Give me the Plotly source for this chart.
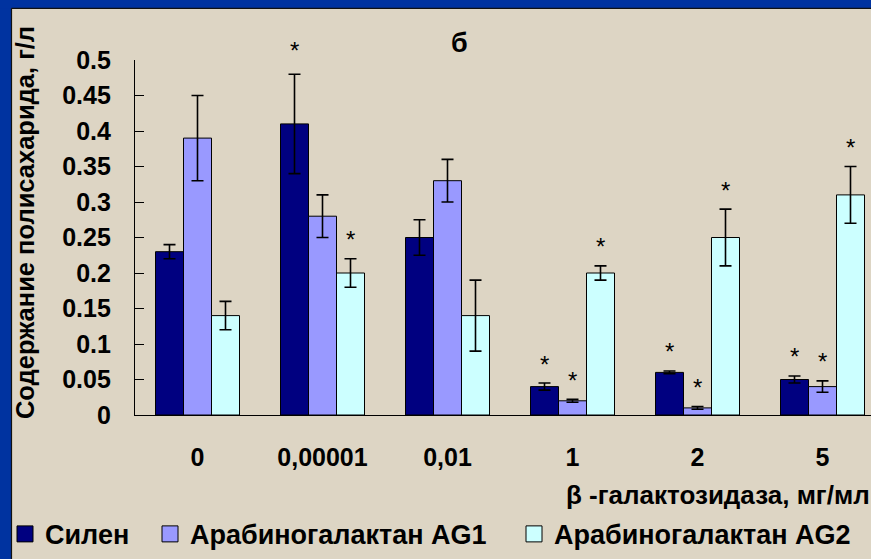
import plotly.graph_objects as go

# ---- data ----
categories = ["0", "0,00001", "0,01", "1", "2", "5"]
series_names = ["Силен", "Арабиногалактан AG1", "Арабиногалактан AG2"]
silen = [0.23, 0.41, 0.25, 0.04, 0.06, 0.05]
silen_err = [0.01, 0.07, 0.025, 0.005, 0.002, 0.005]
ag1 = [0.39, 0.28, 0.33, 0.02, 0.01, 0.04]
ag1_err = [0.06, 0.03, 0.03, 0.002, 0.002, 0.008]
ag2 = [0.14, 0.20, 0.14, 0.20, 0.25, 0.31]
ag2_err = [0.02, 0.02, 0.05, 0.01, 0.04, 0.04]
silen_star = [False, True, False, True, True, True]
ag1_star = [False, False, False, True, True, True]
ag2_star = [False, True, False, True, True, True]
y_ticks = [0, 0.05, 0.1, 0.15, 0.2, 0.25, 0.3, 0.35, 0.4, 0.45, 0.5]
y_tick_labels = ["0", "0.05", "0.1", "0.15", "0.2", "0.25", "0.3", "0.35", "0.4", "0.45", "0.5"]
title_text = "б"
y_title = "Содержание полисахарида, г/л"
x_title = "β -галактозидаза, мг/мл"

colors = ["#000080", "#9999FF", "#CCFFFF"]
BG = "#DDD5C4"
FRAME = "#0033A0"
FONT = "Arial, Liberation Sans, sans-serif"

W, H = 871, 559
ML, MR, MT, MB = 135, 0, 60, 142
PW = W - ML - MR
PH = H - MT - MB


def px_x(px):
    return (px - ML) / PW


def px_y(py):
    return (H - MB - py) / PH


values = [silen, ag1, ag2]
errors = [silen_err, ag1_err, ag2_err]
stars = [silen_star, ag1_star, ag2_star]
legend_ids = ["legend", "legend2", "legend3"]

fig = go.Figure()
for name, v, e, c in zip(series_names, values, errors, colors):
    fig.add_trace(go.Bar(
        x=categories, y=v, name=name, showlegend=False,
        marker=dict(color=c, line=dict(color="black", width=1)),
        error_y=dict(type="data", array=e, visible=True, color="black",
                     thickness=1.6, width=6),
    ))
# legend entries
for name, c, lid in zip(series_names, colors, legend_ids):
    fig.add_trace(go.Scatter(
        x=[None], y=[None], mode="markers", name=name, legend=lid,
        marker=dict(symbol="square", size=16, color=c,
                    line=dict(color="black", width=1)),
    ))

annotations = []
bar_w_px = 28
for si, (v, e, st) in enumerate(zip(values, errors, stars)):
    for ci in range(len(categories)):
        if st[ci]:
            shift = 19 if not (si == 0 and ci == 1) else 24
            annotations.append(dict(
                x=ci, y=v[ci] + e[ci], xref="x", yref="y",
                text="*", showarrow=False, xshift=(si - 1) * bar_w_px,
                yshift=shift, yanchor="middle", xanchor="center",
                font=dict(family=FONT, size=24, color="black"),
            ))

annotations.append(dict(x=px_x(459), y=px_y(43), xref="paper", yref="paper",
                        xanchor="center", yanchor="middle",
                        text=title_text, showarrow=False,
                        font=dict(family=FONT, size=27, color="black", weight="bold")))
annotations.append(dict(x=px_x(25), y=px_y(224), xref="paper", yref="paper",
                        xanchor="center", yanchor="middle",
                        text=y_title, showarrow=False, textangle=-90,
                        font=dict(family=FONT, size=25.5, color="black", weight="bold")))
annotations.append(dict(x=px_x(872), y=px_y(497), xref="paper", yref="paper",
                        xanchor="right", yanchor="middle", text=x_title, showarrow=False,
                        font=dict(family=FONT, size=26, color="black", weight="bold")))

shapes = [
    dict(type="rect", xref="paper", yref="paper", x0=px_x(-5), x1=px_x(11.5),
         y0=px_y(H + 5), y1=px_y(-5), fillcolor=FRAME, line=dict(width=0), layer="below"),
    dict(type="rect", xref="paper", yref="paper", x0=px_x(-5), x1=px_x(W + 5),
         y0=px_y(8), y1=px_y(-5), fillcolor=FRAME, line=dict(width=0), layer="below"),
    dict(type="line", xref="paper", yref="paper", x0=px_x(11.5), x1=px_x(11.5),
         y0=px_y(H + 5), y1=px_y(8), line=dict(color="#111111", width=1.2)),
    dict(type="line", xref="paper", yref="paper", x0=px_x(11.5), x1=px_x(W + 5),
         y0=px_y(8), y1=px_y(8), line=dict(color="#111111", width=1.2)),
]

leg_font = dict(family=FONT, size=27, color="black", weight="bold")
leg_common = dict(orientation="h", yanchor="middle", xanchor="left",
                  bgcolor="rgba(0,0,0,0)", font=leg_font, borderwidth=0)

fig.update_layout(
    width=W, height=H, autosize=False,
    margin=dict(l=ML, r=MR, t=MT, b=MB, pad=0),
    paper_bgcolor=BG, plot_bgcolor=BG,
    barmode="group", bargap=0.328, bargroupgap=0,
    font=dict(family=FONT, color="black"),
    xaxis=dict(type="category", range=[-0.5, -0.5 + PW / 125.0],
               showline=True, linecolor="black", linewidth=1.2,
               ticks="", showgrid=False, zeroline=False,
               tickfont=dict(family=FONT, size=25, color="black", weight="bold"),
               ticklabelstandoff=20),
    yaxis=dict(range=[0, 0.5], tickvals=y_ticks, ticktext=y_tick_labels,
               showline=True, linecolor="black", linewidth=1.2,
               ticks="inside", ticklen=9, tickcolor="black", tickwidth=1.2,
               showgrid=False, zeroline=False,
               tickfont=dict(family=FONT, size=25, color="black", weight="bold"),
               ticklabelstandoff=18),
    annotations=annotations,
    shapes=shapes,
    legend=dict(x=px_x(5), y=px_y(537), **leg_common),
    legend2=dict(x=px_x(150), y=px_y(537), **leg_common),
    legend3=dict(x=px_x(514), y=px_y(537), **leg_common),
)

fig.write_html(
    "out.html",
    config={"displayModeBar": False},
    post_script="document.body.style.margin='0';document.body.style.overflow='hidden';",
)
